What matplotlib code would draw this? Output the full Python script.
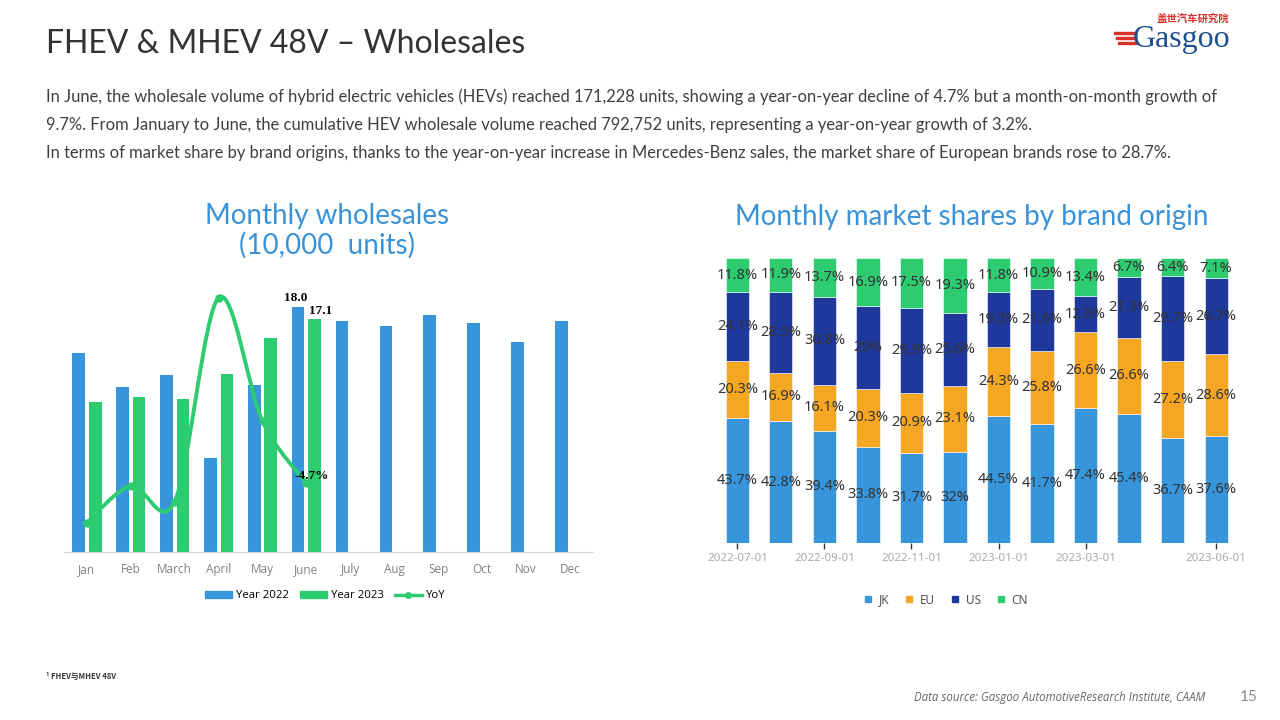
import numpy as np
import matplotlib
matplotlib.use('Agg')
import matplotlib.pyplot as plt
from matplotlib.path import Path
from matplotlib.patches import PathPatch, Patch, Rectangle
from matplotlib.lines import Line2D

plt.rcParams['font.family'] = ['Lato', 'Noto Sans CJK SC', 'DejaVu Sans']

# ---- data: monthly wholesales (10,000 units) ----
months = ['Jan', 'Feb', 'March', 'April', 'May', 'June', 'July', 'Aug', 'Sep', 'Oct', 'Nov', 'Dec']
sales_2022 = [14.6, 12.1, 13.0, 6.9, 12.3, 18.0, 17.0, 16.6, 17.4, 16.8, 15.4, 17.0]
sales_2023 = [11.0, 11.4, 11.2, 13.1, 15.7, 17.1]
yoy = [-24.8, -6.0, -14.0, 90.0, 27.0, -4.7]

# ---- data: market share by brand origin (%) ----
share_dates = ['2022-07-01', '2022-08-01', '2022-09-01', '2022-10-01', '2022-11-01', '2022-12-01',
               '2023-01-01', '2023-02-01', '2023-03-01', '2023-04-01', '2023-05-01', '2023-06-01']
share_ticks = ['2022-07-01', '2022-09-01', '2022-11-01', '2023-01-01', '2023-03-01', '2023-06-01']
origins = ['JK', 'EU', 'US', 'CN']
share_jk = [43.7, 42.8, 39.4, 33.8, 31.7, 32, 44.5, 41.7, 47.4, 45.4, 36.7, 37.6]
share_eu = [20.3, 16.9, 16.1, 20.3, 20.9, 23.1, 24.3, 25.8, 26.6, 26.6, 27.2, 28.6]
share_us = [24.1, 28.5, 30.8, 29, 29.9, 25.6, 19.3, 21.6, 12.6, 21.3, 29.7, 26.7]
share_cn = [11.8, 11.9, 13.7, 16.9, 17.5, 19.3, 11.8, 10.9, 13.4, 6.7, 6.4, 7.1]

BLUE = '#3796db'
GREEN = '#2ecc71'
ORANGE = '#f5a623'
NAVY = '#1f389c'
TITLE_BLUE = '#3a92d8'

fig = plt.figure(figsize=(12.8, 7.2), dpi=100)

# ---- header ----
fig.text(46/1280, 1 - 44/720, 'FHEV & MHEV 48V \u2013 Wholesales', fontsize=23, color='#333333', va='center')
para = ['In June, the wholesale volume of hybrid electric vehicles (HEVs) reached 171,228 units, showing a year-on-year decline of 4.7% but a month-on-month growth of',
        '9.7%. From January to June, the cumulative HEV wholesale volume reached 792,752 units, representing a year-on-year growth of 3.2%.',
        'In terms of market share by brand origins, thanks to the year-on-year increase in Mercedes-Benz sales, the market share of European brands rose to 28.7%.']
for line, y in zip(para, [97, 125, 153]):
    fig.text(46/1280, 1 - y/720, line, fontsize=11.9, color='#404040', va='center')

# logo
fig.text(1157/1280, 1 - 19/720, '盖世汽车研究院', fontsize=7.5, color='#d9322b', weight='bold',
         va='center', family=['Noto Sans CJK SC'])
fig.text(1133/1280, 1 - 39/720, 'Gasgoo', fontsize=23, color='#1d4f91', va='center',
         family=['Liberation Serif'])
for k in range(3):
    fig.patches.append(Rectangle(((1114 + 2*k)/1280, 1 - (34 + 5*k)/720), 20/1280, 2.5/720,
                                 transform=fig.transFigure, color='#d9322b'))

# ---- left chart ----
ax = fig.add_axes([63.6/1280, 1 - 551.5/720, (592.7 - 63.6)/1280, (551.5 - 280)/720])
x = np.arange(len(months))
w = 0.29
off = 0.19
ax.bar(x - off, sales_2022, w, color=BLUE, zorder=2)
ax.bar(x[:len(sales_2023)] + off, sales_2023, w, color=GREEN, zorder=2)
ax.set_xlim(-0.53, 11.52)
ax.set_ylim(0, 20)
ax.set_yticks([])
ax.set_xticks(x)
ax.set_xticklabels(months, fontsize=8.5, color='#808080', family=['Open Sans'])
ax.tick_params(axis='x', length=0, pad=8)
for s in ['top', 'right', 'left']:
    ax.spines[s].set_visible(False)
ax.spines['bottom'].set_color('#d9d9d9')
ax.patch.set_alpha(0)

ax.annotate(f'{sales_2022[5]:.1f}', (x[5] - off, sales_2022[5]), xytext=(-2, 2), textcoords='offset points',
            ha='center', va='bottom', fontsize=9.5, weight='bold', family=['Liberation Serif'])
ax.annotate(f'{sales_2023[5]:.1f}', (x[5] + off, sales_2023[5]), xytext=(4, 2), textcoords='offset points',
            ha='center', va='bottom', fontsize=9.5, weight='bold', family=['Liberation Serif'])

ax2 = ax.twinx()
ax2.set_ylim(-39.5, 99)
ax2.axis('off')
xs = x[:len(yoy)].astype(float)
ys = np.array(yoy, dtype=float)
# smoothed line (Catmull-Rom -> cubic bezier)
verts = [(xs[0], ys[0])]
codes = [Path.MOVETO]
for i in range(len(xs) - 1):
    p0 = np.array([xs[max(i-1, 0)], ys[max(i-1, 0)]])
    p1 = np.array([xs[i], ys[i]])
    p2 = np.array([xs[i+1], ys[i+1]])
    p3 = np.array([xs[min(i+2, len(xs)-1)], ys[min(i+2, len(xs)-1)]])
    c1 = p1 + (p2 - p0) / 6
    c2 = p2 - (p3 - p1) / 6
    verts += [tuple(c1), tuple(c2), tuple(p2)]
    codes += [Path.CURVE4] * 3
ax2.add_patch(PathPatch(Path(verts, codes), fill=False, edgecolor=GREEN, lw=2.8, zorder=3))
ax2.plot(xs, ys, 'o', color=GREEN, ms=5, zorder=4)
ax2.annotate(f'{yoy[-1]}%', (xs[-1], ys[-1]), xytext=(5, 7), textcoords='offset pixels',
             ha='center', va='center', fontsize=9.5, weight='bold', family=['Liberation Serif'])

fig.text(327/1280, 1 - 231/720, 'Monthly wholesales\n(10,000  units)', fontsize=20, color=TITLE_BLUE,
         ha='center', va='center', linespacing=1.1)

handles = [Patch(color=BLUE), Patch(color=GREEN),
           Line2D([], [], color=GREEN, lw=2.5, marker='o', ms=4)]
fig.legend(handles, ['Year 2022', 'Year 2023', 'YoY'], loc='center', bbox_to_anchor=(325/1280, 1 - 596/720),
           ncol=3, frameon=False, handlelength=2.4, handleheight=0.6, columnspacing=1.0,
           handletextpad=0.3, prop={'family': ['Open Sans'], 'size': 8.2})

# ---- right chart ----
bx = fig.add_axes([715.7/1280, 1 - 543/720, (1237.8 - 715.7)/1280, (543 - 258)/720])
pos = np.arange(len(share_dates))
bottom = np.zeros(len(share_dates))
for name, vals, col in zip(origins, [share_jk, share_eu, share_us, share_cn], [BLUE, ORANGE, NAVY, GREEN]):
    vals = np.array(vals, dtype=float)
    bx.bar(pos, vals, 0.53, bottom=bottom, color=col, edgecolor='#ffffff', linewidth=0.4, label=name)
    for p, b, v in zip(pos, bottom, vals):
        bx.text(p, b + v / 2, f'{v:g}%', ha='center', va='center', fontsize=10.5, color='#333333',
                family=['Noto Sans'])
    bottom += vals
bx.set_xlim(-0.5, 11.5)
bx.set_ylim(0, 100)
bx.set_yticks([])
tick_pos = [share_dates.index(t) for t in share_ticks]
bx.set_xticks(tick_pos)
bx.set_xticklabels(share_ticks, fontsize=8.3, color='#aaaaaa', family=['Noto Sans'])
bx.tick_params(axis='x', length=4, width=1, color='#333333', pad=3)
for s in bx.spines.values():
    s.set_visible(False)

fig.text(972/1280, 1 - 217/720, 'Monthly market shares by brand origin', fontsize=20, color=TITLE_BLUE,
         ha='center', va='center')
rh = [Line2D([], [], ls='', marker='s', ms=5, color=c) for c in [BLUE, ORANGE, NAVY, GREEN]]
fig.legend(rh, origins, loc='center', bbox_to_anchor=(945/1280, 1 - 600/720), ncol=4, frameon=False,
           handlelength=1, handletextpad=0.4, columnspacing=1.2,
           prop={'family': ['Noto Sans'], 'size': 8.5}, labelcolor='#555555')

# ---- footer ----
fig.text(46/1280, 1 - 676/720, '¹ FHEV与MHEV 48V', fontsize=5.5, weight='bold', color='#333333', va='center',
         family=['Noto Sans CJK SC', 'DejaVu Sans'])
fig.text(1205/1280, 1 - 697/720, 'Data source: Gasgoo AutomotiveResearch Institute, CAAM', fontsize=8.3,
         style='italic', color='#666666', ha='right', va='center', family=['Open Sans'])
fig.text(1249/1280, 1 - 697/720, '15', fontsize=11, color='#888888', ha='center', va='center')

fig.savefig('out.png', dpi=100)
